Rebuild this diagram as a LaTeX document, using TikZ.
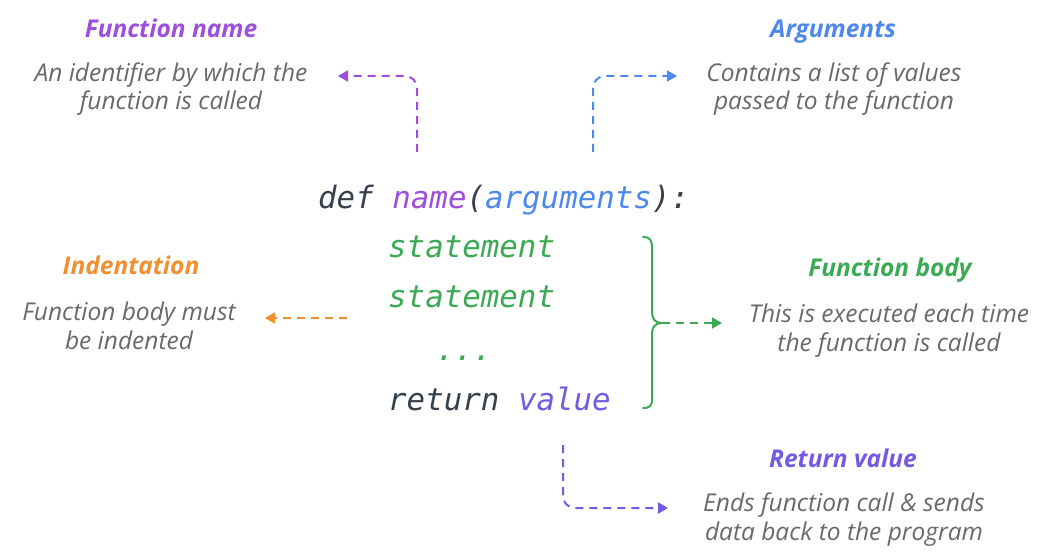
\documentclass[tikz,border=0pt]{standalone}
\usepackage{fontspec}
\setmainfont{Open Sans}
\newfontfamily\codefont{DejaVu Sans Mono}
\usetikzlibrary{arrows.meta}
\definecolor{fnpurple}{RGB}{157,78,221}
\definecolor{argblue}{RGB}{77,137,235}
\definecolor{indorange}{RGB}{240,144,48}
\definecolor{bodygreen}{RGB}{60,170,85}
\definecolor{retpurple}{RGB}{116,90,226}
\definecolor{txtgray}{RGB}{105,105,105}
\definecolor{codedark}{RGB}{55,65,78}
\begin{document}
\begin{tikzpicture}[x=1pt,y=-1pt,
  head/.style={font=\fontsize{24.5}{29}\selectfont\bfseries\itshape, anchor=base, inner sep=0pt},
  desc/.style={font=\fontsize{24.5}{28.5}\selectfont\itshape, text=txtgray, align=center, anchor=base, inner sep=0pt},
  code/.style={font=\fontsize{30.8}{36}\selectfont\codefont\itshape, anchor=base west, inner sep=0pt},
  conn/.style={dash pattern=on 8pt off 6pt, line width=2pt, rounded corners=12pt, -{Triangle[length=10pt,width=11pt]}},
  bracestyle/.style={line width=2pt, bodygreen, line cap=round}]
\useasboundingbox (0,0) rectangle (1052,553);
\fill[white] (0,0) rectangle (1052,553);

% headings and descriptions (description anchor = baseline of last line)
\node[head, text=fnpurple] (fnhead) at (171,38) {Function name};
\node[desc] (fndesc) at (171,110) {An identifier by which the\\function is called};
\node[head, text=argblue] (arghead) at (833,38) {Arguments};
\node[desc] (argdesc) at (834,110) {Contains a list of values\\passed to the function};
\node[head, text=indorange] (indhead) at (131,275) {Indentation};
\node[desc] (inddesc) at (129,349) {Function body must\\be indented};
\node[head, text=bodygreen] (bodyhead) at (890,277) {Function body};
\node[desc] (bodydesc) at (889,351) {This is executed each time\\the function is called};
\node[head, text=retpurple] (rethead) at (843,467) {Return value};
\node[desc] (retdesc) at (844,540) {Ends function call \& sends\\data back to the program};

% code
\node[code] (defline) at (318,209) {\color{codedark}def {\color{fnpurple}name}(\color{argblue}arguments\color{codedark}):};
\node[code, text=bodygreen] (stmt1) at (388,258) {statement};
\node[code, text=bodygreen] (stmt2) at (388,308) {statement};
\node[code, text=bodygreen] (dots) at (436,360) {...};
\node[code] (retline) at (388,410) {\color{codedark}return \color{retpurple}value};

% connector end points
\coordinate (fnstart) at (417,152);
\coordinate (fnend) at (338,76);
\coordinate (argstart) at (593,152);
\coordinate (argend) at (677,76);
\coordinate (indstart) at (347,318);
\coordinate (indend) at (265,318);
\coordinate (retstart) at (563,445);
\coordinate (retend) at (668,508);
\coordinate (bt) at (662,323);
\coordinate (bodyend) at (722,323);

% brace
\draw[bracestyle] (643,237) .. controls (650,237) and (652,240) .. (652,248) -- (652,312)
  .. controls (652,319) and (655,323) .. (bt)
  .. controls (655,323) and (652,327) .. (652,334) -- (652,399)
  .. controls (652,406) and (650,408) .. (643,408);

% connectors
\draw[conn, fnpurple] (fnstart) |- (fnend);
\draw[conn, argblue] (argstart) |- (argend);
\draw[conn, indorange] (indstart) -- (indend);
\draw[conn, retpurple] (retstart) |- (retend);
\draw[conn, bodygreen] (bt) -- (bodyend);
\end{tikzpicture}
\end{document}
